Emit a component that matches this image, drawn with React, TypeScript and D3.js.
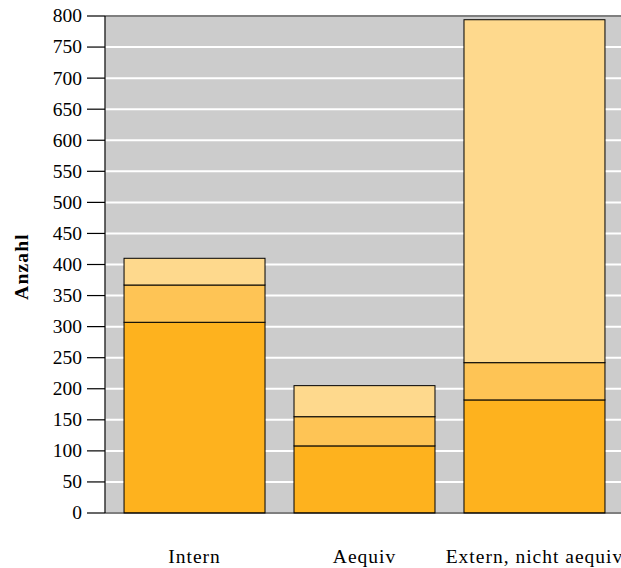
import React from "react";
import * as d3 from "d3";

const categories = ["Intern", "Aequiv", "Extern, nicht aequiv"];
const seriesA = [307, 108, 182];
const seriesB = [60, 47, 60];
const seriesC = [43, 50, 552];
const yTicks = d3.range(0, 801, 50);
const colors = ["#FEB21E", "#FEC455", "#FED98D"];

export default function App() {
  const W = 621, H = 568;
  const left = 105, top = 16, bottom = 513, right = 624;
  const x = d3.scaleBand<string>().domain(categories).range([left, right]).paddingInner(0.1706).paddingOuter(0.112);
  const y = d3.scaleLinear().domain([0, 800]).range([bottom, top]);
  const rows = categories.map((c, i) => ({ cat: c, a: seriesA[i], b: seriesB[i], c: seriesC[i] }));
  const stack = d3.stack<any>().keys(["a", "b", "c"])(rows);
  const font = "'Liberation Serif', 'DejaVu Serif', serif";
  return (
    <svg width={W} height={H} style={{ position: "absolute", left: 0, top: 0 }} fontFamily={font}>
      <rect x={left} y={top} width={right - left} height={bottom - top} fill="#CCCCCC" />
      {yTicks.map((t) => (
        <line key={"g" + t} x1={left} x2={right} y1={y(t)} y2={y(t)} stroke="#FFFFFF" strokeWidth={2} />
      ))}
      {stack.map((s, si) =>
        s.map((d, i) => (
          <rect
            key={si + "-" + i}
            x={x(categories[i])!}
            y={y(d[1])}
            width={x.bandwidth()}
            height={y(d[0]) - y(d[1])}
            fill={colors[si]}
            stroke="#000"
            strokeWidth={1}
          />
        ))
      )}
      <line x1={left} x2={left} y1={top} y2={bottom} stroke="#333" strokeWidth={1.5} />
      <line x1={left} x2={right} y1={top} y2={top} stroke="#000" strokeWidth={1.2} />
      <line x1={left} x2={right} y1={bottom} y2={bottom} stroke="#000" strokeWidth={1.2} />
      {yTicks.map((t) => (
        <g key={"t" + t}>
          <line x1={87} x2={left} y1={y(t)} y2={y(t)} stroke="#000" strokeWidth={1.2} />
          <text x={82} y={y(t)} dy="0.33em" textAnchor="end" fontSize={19.5} fill="#000">
            {t}
          </text>
        </g>
      ))}
      {categories.map((c) => (
        <text
          key={c}
          x={x(c)! + x.bandwidth() / 2}
          y={563}
          textAnchor="middle"
          fontSize={19.5}
          letterSpacing={1}
          fill="#000"
        >
          {c}
        </text>
      ))}
      <text
        transform={`translate(28,${(top + bottom) / 2 + 2}) rotate(-90)`}
        textAnchor="middle"
        fontSize={19.5}
        fontWeight="bold"
        letterSpacing={1.2}
        fill="#000"
      >
        Anzahl
      </text>
    </svg>
  );
}
